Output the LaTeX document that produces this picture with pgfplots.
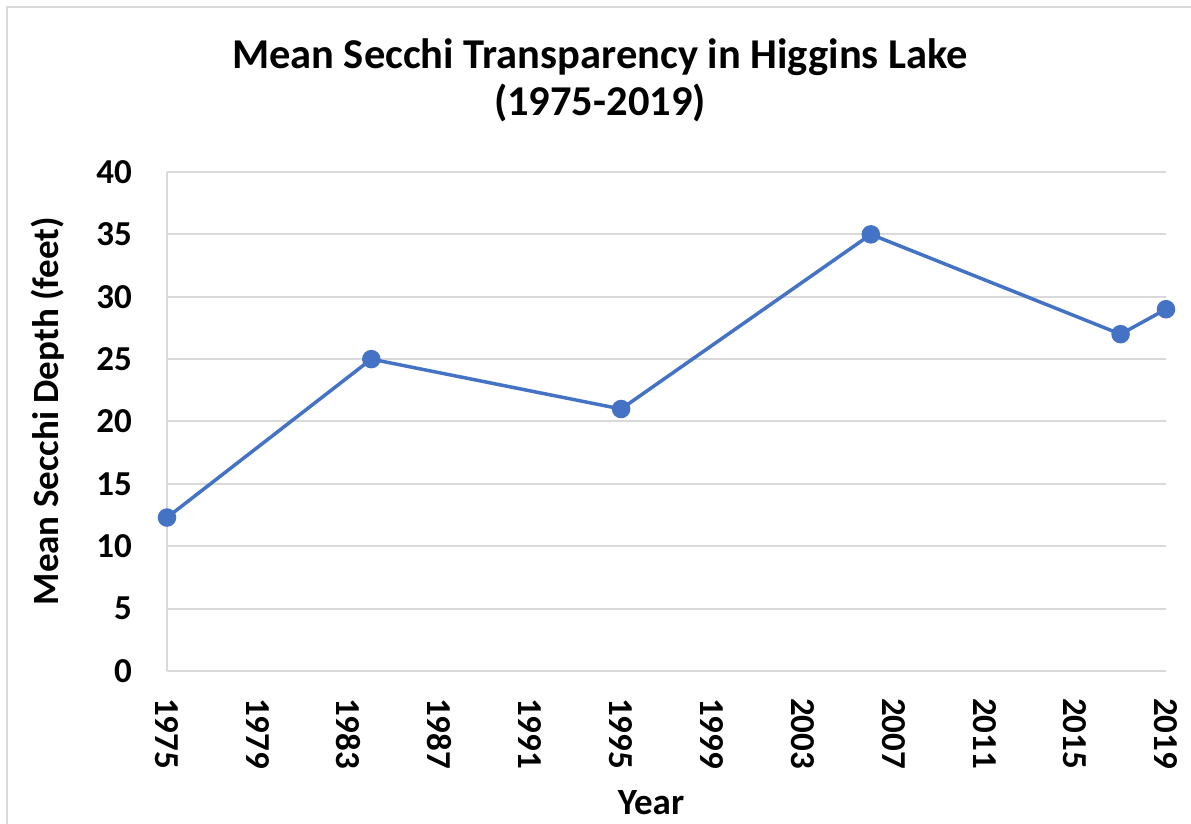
\documentclass[border=0pt]{standalone}
\usepackage{pgfplots}
\pgfplotsset{compat=1.18}
\usepackage{fontspec}
\setmainfont{Carlito}
\definecolor{xlblue}{HTML}{4472C4}
\definecolor{xlgrid}{HTML}{D9D9D9}

\begin{document}
\begin{tikzpicture}[x=0.5pt,y=0.5pt]
% page frame: 1191 x 824 px, axis box lower left at (167,153) px from the bottom
\useasboundingbox (-167,-153) rectangle (1024,671);
\draw[xlgrid, line width=1pt] (-160,-160) -- (-160,664) -- (1030,664);
\begin{axis}[
  at={(0,0)}, anchor=south west,
  scale only axis, width=499.5pt, height=249.5pt,
  xmin=1975, xmax=2019, ymin=0, ymax=40,
  xtick={1975,1979,...,2019},
  ytick={0,5,...,40},
  /pgf/number format/assume math mode=true,
  xticklabel style={rotate=-90, anchor=west, font=\fontsize{17.5}{17.5}\bfseries},
  yticklabel style={font=\fontsize{17.5}{17.5}\bfseries},
  xticklabel shift=10pt, yticklabel shift=14pt,
  xticklabel={\pgfmathprintnumber[1000 sep={}]{\tick}},
  major tick length=0pt,
  axis x line*=bottom, axis y line*=left,
  axis line style={xlgrid, line width=1pt},
  ymajorgrids, grid style={xlgrid, line width=1pt},
  xlabel={Year}, ylabel={Mean Secchi Depth (feet)},
  label style={font=\fontsize{18.5}{18.5}\bfseries},
  xlabel style={at={(axis description cs:0.4845,-0.2645)}, anchor=center},
  ylabel style={at={(axis description cs:-0.1191,0.521)}, anchor=center},
  title={Mean Secchi Transparency in Higgins Lake\\(1975-2019)},
  title style={font=\fontsize{21.25}{23.5}\bfseries, align=center, at={(axis description cs:0.4334,1.1594)}, anchor=center},
  clip=false,
]
\addplot[xlblue, line width=1.75pt, mark=*, mark size=3.75pt, mark options={fill=xlblue, draw=xlblue}] coordinates {
  (1975,12.3) (1984,25) (1995,21) (2006,35) (2017,27) (2019,29)
};
\end{axis}
\end{tikzpicture}
\end{document}
